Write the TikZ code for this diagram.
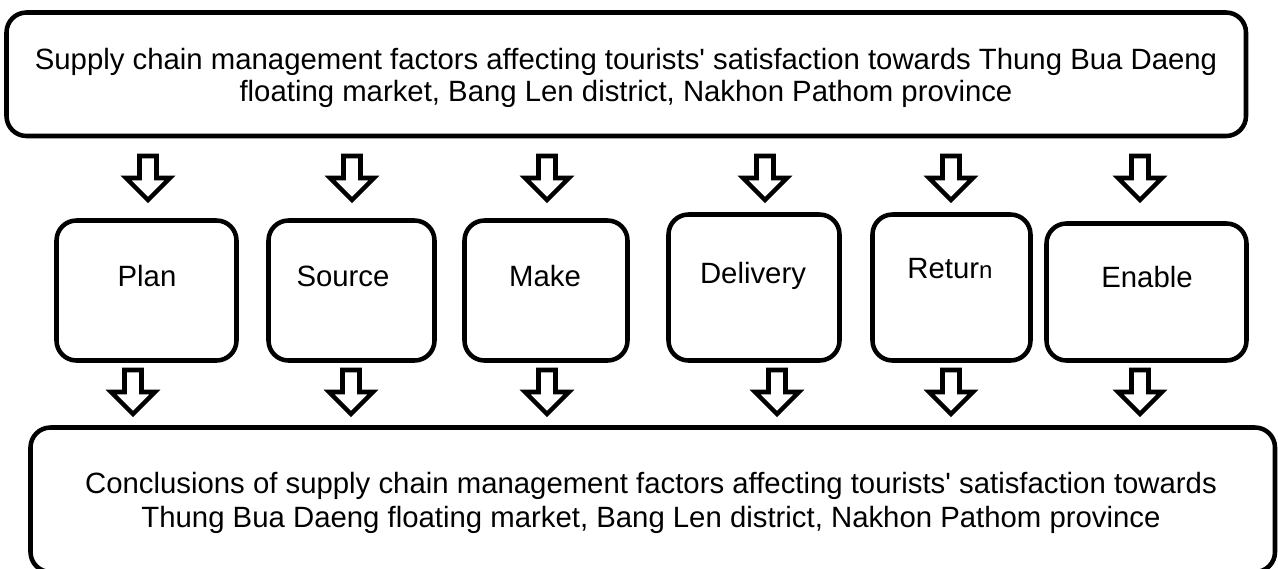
\documentclass[tikz,border=0pt]{standalone}
\usepackage{fontspec}
\setmainfont{Liberation Sans}
\usetikzlibrary{fit}
\begin{document}
\begin{tikzpicture}[x=0.75pt,y=-0.75pt,
  box/.style={draw=black,line width=3.4pt,rounded corners=15pt,inner sep=0pt},
  txt/.style={font=\fontsize{22}{24}\selectfont,align=center,inner sep=0pt},
  lbl/.style={font=\fontsize{22}{24}\selectfont,inner sep=0pt,anchor=base},
  blk/.style={draw=black,fill=white,line width=3.4pt,miter limit=10},
  pics/blockdown/.style={code={
    \draw[blk] (-8.5,0) -- (8.5,0) -- (8.5,22) -- (22,22) -- (0,44)
               -- (-22,22) -- (-8.5,22) -- cycle;}}]
\useasboundingbox[fill=white] (0,0) rectangle (1278,568);

% header and conclusion frames
\node[box,fit={(6.5,12.5) (1246,136)}] (head) {};
\node[box,fit={(30.5,427.5) (1275,572)}] (concl) {};
\node[txt] (headtxt) at (626,78) {Supply chain management factors affecting tourists\textquotesingle{} satisfaction towards Thung Bua Daeng\\floating market, Bang Len district, Nakhon Pathom province};
\node[txt,font=\fontsize{22}{25.5}\selectfont] (concltxt) at (651,503) {Conclusions of supply chain management factors affecting tourists\textquotesingle{} satisfaction towards\\Thung Bua Daeng floating market, Bang Len district, Nakhon Pathom province};

% SCOR process boxes
\node[box,fit={(56.5,220.5) (236.5,360.5)}] (plan) {};
\node[box,fit={(268.5,220.5) (434.5,360.5)}] (source) {};
\node[box,fit={(464.5,220.5) (627.5,360.5)}] (make) {};
\node[box,fit={(668.5,214.5) (839.5,360.5)}] (delivery) {};
\node[box,fit={(872.5,214.5) (1030.5,360.5)}] (return) {};
\node[box,fit={(1046.5,223.5) (1246.5,360.5)}] (enable) {};

\node[lbl] (planlbl) at (147,286) {Plan};
\node[lbl] (sourcelbl) at (343,286) {Source};
\node[lbl] (makelbl) at (545,286) {Make};
\node[lbl] (deliverylbl) at (753,283) {Delivery};
\node[lbl] (returnlbl) at (950,278) {Retur{\fontsize{18}{20}\selectfont n}};
\node[lbl] (enablelbl) at (1147,287) {Enable};

% block arrows into the process boxes
\foreach \x in {148,352,547,765,951,1140}
  \pic at (\x,156) {blockdown};
% block arrows into the conclusion
\foreach \x in {133,351,547,777,951,1140}
  \pic at (\x,370) {blockdown};
\end{tikzpicture}
\end{document}
